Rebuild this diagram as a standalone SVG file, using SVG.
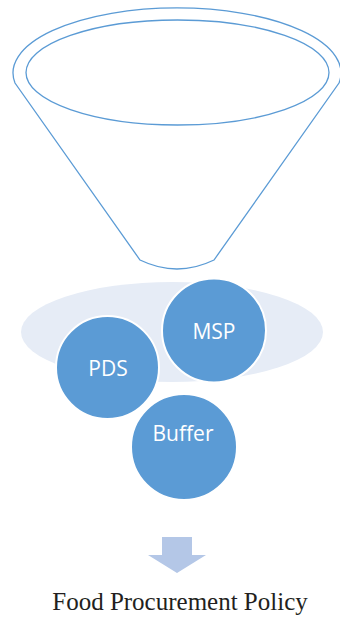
<svg xmlns="http://www.w3.org/2000/svg" width="340" height="618" viewBox="0 0 340 618">
<style>
.line{fill:none;stroke:#5B9BD5;stroke-width:1.3}
.circ{fill:#5B9BD5;stroke:#FFFFFF;stroke-width:2}
.lbl{font-family:"Open Sans","Liberation Sans",sans-serif;font-size:21px;fill:#FFFFFF;text-anchor:middle}
.cap{font-family:"Liberation Serif","Times New Roman",serif;font-size:25px;fill:#231F20;text-anchor:middle}
</style>
<rect width="340" height="618" fill="#FFFFFF"/>
<g id="funnel">
<path class="line" d="M15,83 A164,65 0 1 1 339,83 L214,260 Q177,278 140,260 Z"/>
<ellipse class="line" cx="177.5" cy="72.5" rx="151.5" ry="52.5"/>
</g>
<g id="base">
<ellipse cx="172" cy="332" rx="151" ry="50" fill="#E6ECF6"/>
</g>
<g id="node-msp">
<circle class="circ" cx="214" cy="330.5" r="52"/>
<text class="lbl" x="214" y="339">MSP</text>
</g>
<g id="node-pds">
<circle class="circ" cx="107.5" cy="367.5" r="51.5"/>
<text class="lbl" x="108" y="376">PDS</text>
</g>
<g id="node-buffer">
<circle class="circ" cx="184" cy="447" r="53"/>
<text class="lbl" x="183" y="441">Buffer</text>
</g>
<g id="connectors">
<path d="M162,537 H192 V555 H206 L177,573 L148,555 H162 Z" fill="#B4C7E7"/>
</g>
<g id="caption">
<text class="cap" x="180" y="610">Food Procurement Policy</text>
</g>
</svg>
